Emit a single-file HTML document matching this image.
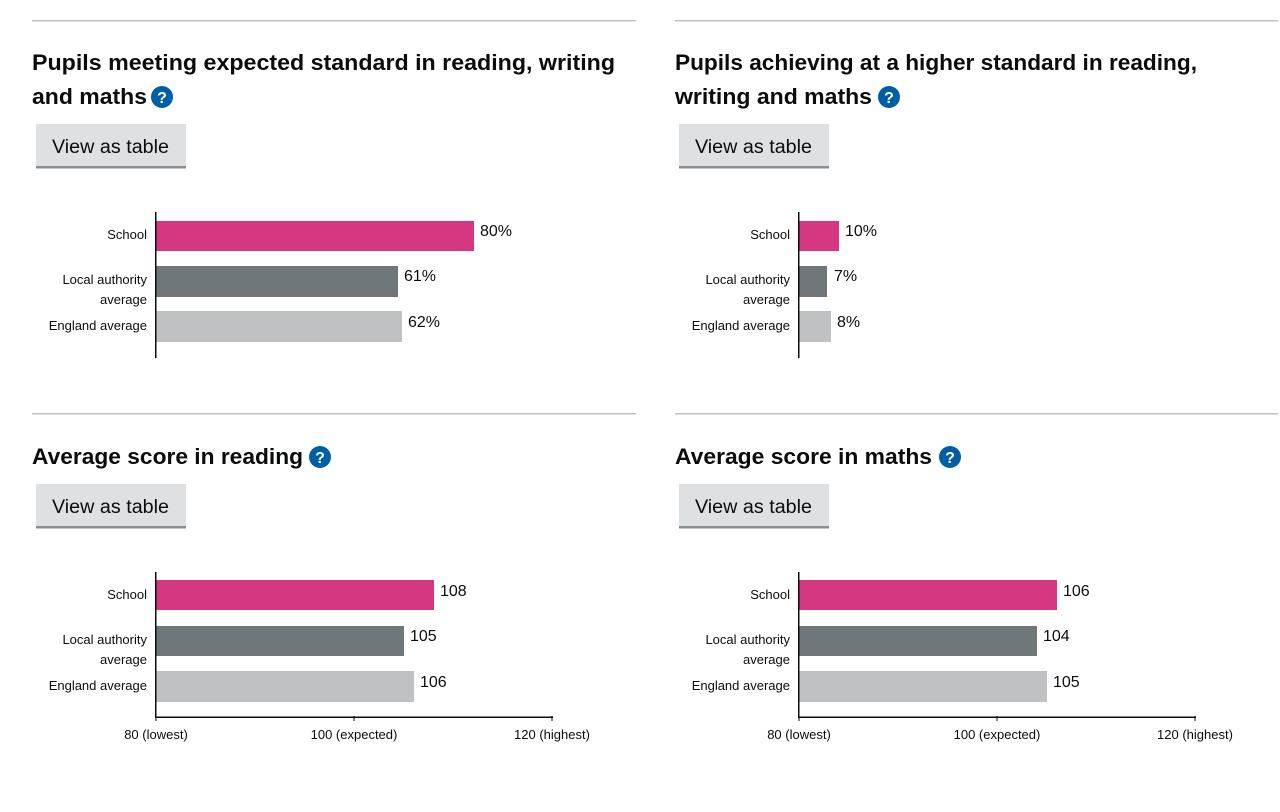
<!DOCTYPE html>
<html><head><meta charset="utf-8"><style>
html,body{margin:0;padding:0;background:#fff;}
svg{display:block;}
text{font-family:"Liberation Sans",Arial,sans-serif;}
.t{font-size:22px;font-weight:bold;fill:#0b0c0c;}
.b{font-size:19px;fill:#0b0c0c;}
.c{font-size:13px;fill:#0b0c0c;}
.v{font-size:16px;fill:#0b0c0c;}
</style></head><body>
<svg width="1280" height="812" viewBox="0 0 1280 812" xmlns="http://www.w3.org/2000/svg">
<defs>
<g id="btn">
<rect x="0" y="0" width="150" height="44" fill="#dee0e2"/>
<rect x="0" y="42" width="150" height="2.5" fill="#8b8f91"/>
<text class="b" x="16" y="29" textLength="117" lengthAdjust="spacingAndGlyphs">View as table</text>
</g>
<g id="cats">
<text class="c" x="147" y="239" text-anchor="end">School</text>
<text class="c" x="147" y="284" text-anchor="end">Local authority</text>
<text class="c" x="147" y="304" text-anchor="end">average</text>
<text class="c" x="147" y="330" text-anchor="end">England average</text>
</g>
</defs>

<!-- Panel 1 -->
<rect x="32" y="20" width="604" height="1.5" fill="#bfc1c3"/>
<text class="t" x="32" y="70" textLength="583" lengthAdjust="spacingAndGlyphs">Pupils meeting expected standard in reading, writing</text>
<text class="t" x="32" y="104" textLength="115" lengthAdjust="spacingAndGlyphs">and maths</text>
<circle cx="162" cy="97" r="11" fill="#005ea5"/><text x="162" y="103" text-anchor="middle" style="font-size:16px;font-weight:bold;fill:#fff">?</text>
<use href="#btn" x="36" y="124"/>
<use href="#cats" x="0" y="0"/>
<rect x="156" y="221" width="318" height="30" fill="#d53880"/>
<rect x="156" y="266" width="242" height="31" fill="#6f777b"/>
<rect x="156" y="311" width="246" height="31" fill="#bfc1c3"/>
<rect x="155" y="212" width="1.5" height="146" fill="#0b0c0c"/>
<text class="v" x="480" y="236">80%</text>
<text class="v" x="404" y="281">61%</text>
<text class="v" x="408" y="327">62%</text>

<!-- Panel 2 -->
<rect x="675" y="20" width="603" height="1.5" fill="#bfc1c3"/>
<text class="t" x="675" y="70" textLength="522" lengthAdjust="spacingAndGlyphs">Pupils achieving at a higher standard in reading,</text>
<text class="t" x="675" y="104" textLength="197" lengthAdjust="spacingAndGlyphs">writing and maths</text>
<circle cx="889" cy="97" r="11" fill="#005ea5"/><text x="889" y="103" text-anchor="middle" style="font-size:16px;font-weight:bold;fill:#fff">?</text>
<use href="#btn" x="679" y="124"/>
<use href="#cats" x="643" y="0"/>
<rect x="799" y="221" width="40" height="30" fill="#d53880"/>
<rect x="799" y="266" width="28" height="31" fill="#6f777b"/>
<rect x="799" y="311" width="32" height="31" fill="#bfc1c3"/>
<rect x="798" y="212" width="1.5" height="146" fill="#0b0c0c"/>
<text class="v" x="845" y="236">10%</text>
<text class="v" x="834" y="281">7%</text>
<text class="v" x="837" y="327">8%</text>

<!-- Panel 3 -->
<rect x="32" y="413" width="604" height="1.5" fill="#bfc1c3"/>
<text class="t" x="32" y="464" textLength="271" lengthAdjust="spacingAndGlyphs">Average score in reading</text>
<circle cx="320" cy="457" r="11" fill="#005ea5"/><text x="320" y="463" text-anchor="middle" style="font-size:16px;font-weight:bold;fill:#fff">?</text>
<use href="#btn" x="36" y="484"/>
<use href="#cats" x="0" y="360"/>
<rect x="156" y="580" width="278" height="30" fill="#d53880"/>
<rect x="156" y="626" width="248" height="30" fill="#6f777b"/>
<rect x="156" y="671" width="258" height="31" fill="#bfc1c3"/>
<rect x="155" y="572" width="1.5" height="146" fill="#0b0c0c"/>
<rect x="155" y="716.5" width="398" height="1.5" fill="#0b0c0c"/>
<rect x="353.5" y="716" width="1" height="5" fill="#0b0c0c"/>
<rect x="551.5" y="716" width="1" height="5" fill="#0b0c0c"/>
<rect x="155.5" y="716" width="1" height="5" fill="#0b0c0c"/>
<text class="v" x="440" y="596">108</text>
<text class="v" x="410" y="641">105</text>
<text class="v" x="420" y="687">106</text>
<text class="c" x="156" y="739" text-anchor="middle">80 (lowest)</text>
<text class="c" x="354" y="739" text-anchor="middle">100 (expected)</text>
<text class="c" x="552" y="739" text-anchor="middle">120 (highest)</text>

<!-- Panel 4 -->
<rect x="675" y="413" width="603" height="1.5" fill="#bfc1c3"/>
<text class="t" x="675" y="464" textLength="257" lengthAdjust="spacingAndGlyphs">Average score in maths</text>
<circle cx="950" cy="457" r="11" fill="#005ea5"/><text x="950" y="463" text-anchor="middle" style="font-size:16px;font-weight:bold;fill:#fff">?</text>
<use href="#btn" x="679" y="484"/>
<use href="#cats" x="643" y="360"/>
<rect x="799" y="580" width="258" height="30" fill="#d53880"/>
<rect x="799" y="626" width="238" height="30" fill="#6f777b"/>
<rect x="799" y="671" width="248" height="31" fill="#bfc1c3"/>
<rect x="798" y="572" width="1.5" height="146" fill="#0b0c0c"/>
<rect x="798" y="716.5" width="398" height="1.5" fill="#0b0c0c"/>
<rect x="996.5" y="716" width="1" height="5" fill="#0b0c0c"/>
<rect x="1194.5" y="716" width="1" height="5" fill="#0b0c0c"/>
<rect x="798.5" y="716" width="1" height="5" fill="#0b0c0c"/>
<text class="v" x="1063" y="596">106</text>
<text class="v" x="1043" y="641">104</text>
<text class="v" x="1053" y="687">105</text>
<text class="c" x="799" y="739" text-anchor="middle">80 (lowest)</text>
<text class="c" x="997" y="739" text-anchor="middle">100 (expected)</text>
<text class="c" x="1195" y="739" text-anchor="middle">120 (highest)</text>
</svg>
</body></html>
